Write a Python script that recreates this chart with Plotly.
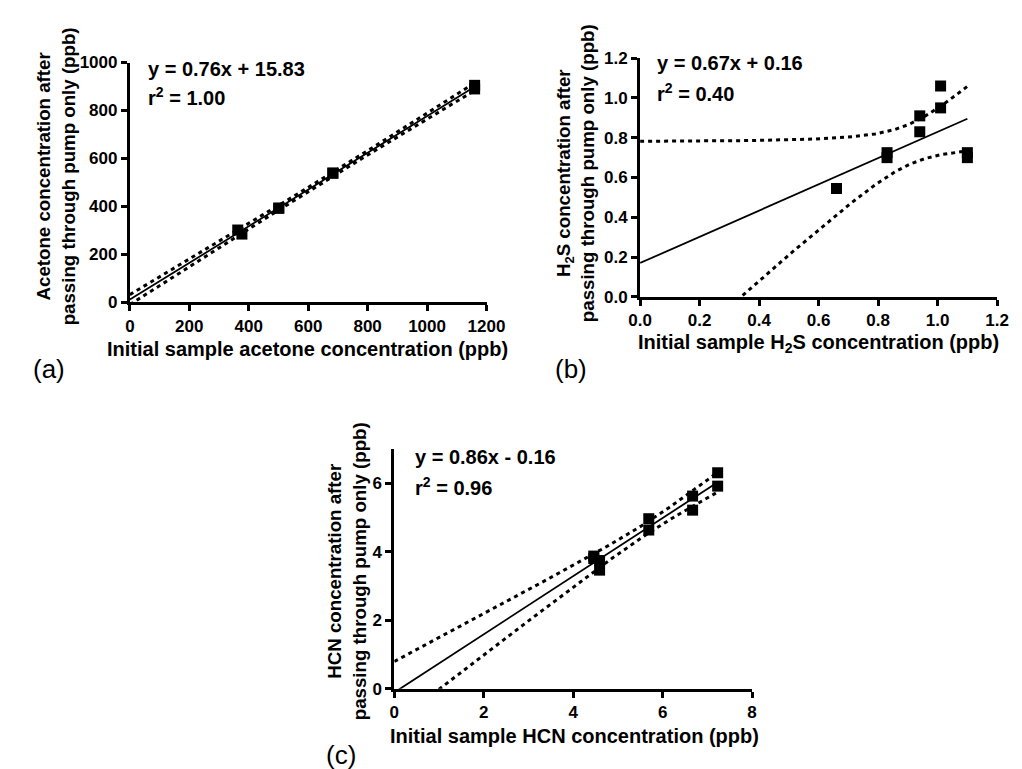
import numpy as np
import plotly.graph_objects as go

# ---------------- data ----------------
# (a) acetone, ppb
acetone_x = [363, 377, 501, 501, 683, 683, 1160, 1160]
acetone_y = [302, 285, 393, 393, 539, 539, 905, 890]
# (b) H2S, ppb
h2s_x = [0.66, 0.66, 0.83, 0.83, 0.94, 0.94, 1.01, 1.01, 1.10, 1.10]
h2s_y = [0.545, 0.545, 0.725, 0.70, 0.91, 0.83, 1.06, 0.95, 0.725, 0.70]
# (c) HCN, ppb
hcn_x = [4.46, 4.46, 4.59, 4.59, 5.69, 5.69, 6.67, 6.67, 7.23, 7.23]
hcn_y = [3.87, 3.80, 3.74, 3.46, 4.96, 4.63, 5.62, 5.21, 6.30, 5.91]

eq_labels = ["y = 0.76x + 15.83", "y = 0.67x + 0.16", "y = 0.86x - 0.16"]
r2_labels = ["r<sup>2</sup> = 1.00", "r<sup>2</sup> = 0.40", "r<sup>2</sup> = 0.96"]
x_titles = ["Initial sample acetone concentration (ppb)",
            "Initial sample H<sub>2</sub>S concentration (ppb)",
            "Initial sample HCN concentration (ppb)"]
y_titles = ["Acetone concentration after<br>passing through pump only (ppb)",
            "H<sub>2</sub>S concentration after<br>passing through pump only (ppb)",
            "HCN concentration after<br>passing through pump only (ppb)"]
panel_labels = ["(a)", "(b)", "(c)"]
# two-sided 95% t critical values for df = n - 2
t_crit = {6: 2.447, 8: 2.306}

W, H = 1022, 769
FONT = "Liberation Sans, Arial, Helvetica, sans-serif"


def fit_band(x, y, n_pts=200):
    x = np.asarray(x, float)
    y = np.asarray(y, float)
    n = len(x)
    slope, icpt = np.polyfit(x, y, 1)
    resid = y - (slope * x + icpt)
    s = np.sqrt(np.sum(resid ** 2) / (n - 2))
    mx = x.mean()
    sxx = np.sum((x - mx) ** 2)
    xs = np.linspace(0, x.max(), n_pts)
    yhat = slope * xs + icpt
    hw = t_crit[n - 2] * s * np.sqrt(1.0 / n + (xs - mx) ** 2 / sxx)
    return xs, yhat, yhat - hw, yhat + hw


def px(v):
    return v / W


def py(v):
    return 1 - v / H


# plot-area pixel boxes (left, right, bottom, top)
boxes = [(113.3, 481.1, 292.7, 46.7),
         (639.5, 1007.7, 287.0, 42.2),
         (386.0, 755.0, 688.8, 442.7)]
ranges_x = [[0, 1200], [0, 1.2], [0, 8]]
ranges_y = [[0, 1000], [0, 1.2], [0, 7]]
dtx = [200, 0.2, 2]
dty = [200, 0.2, 2]
fmt = ["d", ".1f", "d"]
datasets = [(acetone_x, acetone_y), (h2s_x, h2s_y), (hcn_x, hcn_y)]

fig = go.Figure()

for i, (xd, yd) in enumerate(datasets):
    xa = "x" if i == 0 else f"x{i+1}"
    ya = "y" if i == 0 else f"y{i+1}"
    xs, yh, lo, hi = fit_band(xd, yd)
    for band in (lo, hi):
        fig.add_trace(go.Scatter(x=xs, y=band, mode="lines", xaxis=xa, yaxis=ya,
                                 line=dict(color="black", width=3, dash="4px,4px"),
                                 hoverinfo="skip", showlegend=False))
    fig.add_trace(go.Scatter(x=xs, y=yh, mode="lines", xaxis=xa, yaxis=ya,
                             line=dict(color="black", width=1.8),
                             hoverinfo="skip", showlegend=False))
    fig.add_trace(go.Scatter(x=xd, y=yd, mode="markers", xaxis=xa, yaxis=ya,
                             marker=dict(symbol="square", size=11, color="black"),
                             cliponaxis=False, showlegend=False))

ax_common = dict(showline=True, linewidth=3, linecolor="black", ticks="outside",
                 ticklen=6, tickwidth=2.5, tickcolor="black", showgrid=False,
                 zeroline=False, fixedrange=True,
                 tickfont=dict(family=FONT, size=17, color="black", weight="bold"))

layout_axes = {}
annotations = []
for i in range(3):
    l, r, b, t = boxes[i]
    sx = "" if i == 0 else str(i + 1)
    layout_axes[f"xaxis{sx}"] = dict(ax_common, domain=[px(l), px(r)], range=ranges_x[i],
                                     dtick=dtx[i], tick0=0, tickformat=fmt[i],
                                     anchor=f"y{sx}")
    layout_axes[f"yaxis{sx}"] = dict(ax_common, domain=[py(b), py(t)], range=ranges_y[i],
                                     dtick=dty[i], tick0=0, tickformat=fmt[i],
                                     anchor=f"x{sx}")

# text positions (pixels)
eq_pos = [(130, 53, 82), (655, 47, 77), (405, 451, 481)]
xt_pos = [(297, 340), (823, 335), (572, 737)]
yt_pos = [(37.5, 163), (572.5, 160), (337.5, 568)]
pl_pos = [(30, 361), (568, 361), (331, 757)]

for i in range(3):
    ex, ey1, ey2 = eq_pos[i]
    annotations.append(dict(text=f"<b>{eq_labels[i]}</b>", x=px(ex), y=py(ey1), xref="paper",
                            yref="paper", xanchor="left", yanchor="middle", showarrow=False,
                            font=dict(family=FONT, size=20, color="black")))
    annotations.append(dict(text=f"<b>{r2_labels[i]}</b>", x=px(ex), y=py(ey2), xref="paper",
                            yref="paper", xanchor="left", yanchor="middle", showarrow=False,
                            font=dict(family=FONT, size=20, color="black")))
    tx, ty = xt_pos[i]
    annotations.append(dict(text=f"<b>{x_titles[i]}</b>", x=px(tx), y=py(ty), xref="paper",
                            yref="paper", xanchor="center", yanchor="middle", showarrow=False,
                            font=dict(family=FONT, size=20, color="black")))
    yx, yy = yt_pos[i]
    annotations.append(dict(text=f"<b>{y_titles[i]}</b>", x=px(yx), y=py(yy), xref="paper",
                            yref="paper", xanchor="center", yanchor="middle", showarrow=False,
                            textangle=-90, align="center",
                            font=dict(family=FONT, size=18.7, color="black")))
    lx, ly = pl_pos[i]
    annotations.append(dict(text=panel_labels[i], x=px(lx), y=py(ly), xref="paper",
                            yref="paper", xanchor="center", yanchor="middle", showarrow=False,
                            font=dict(family=FONT, size=26, color="black")))

fig.update_layout(width=W, height=H, margin=dict(l=0, r=0, t=0, b=0),
                  paper_bgcolor="white", plot_bgcolor="white", showlegend=False,
                  annotations=annotations, **layout_axes)

fig.write_html("out.html")
